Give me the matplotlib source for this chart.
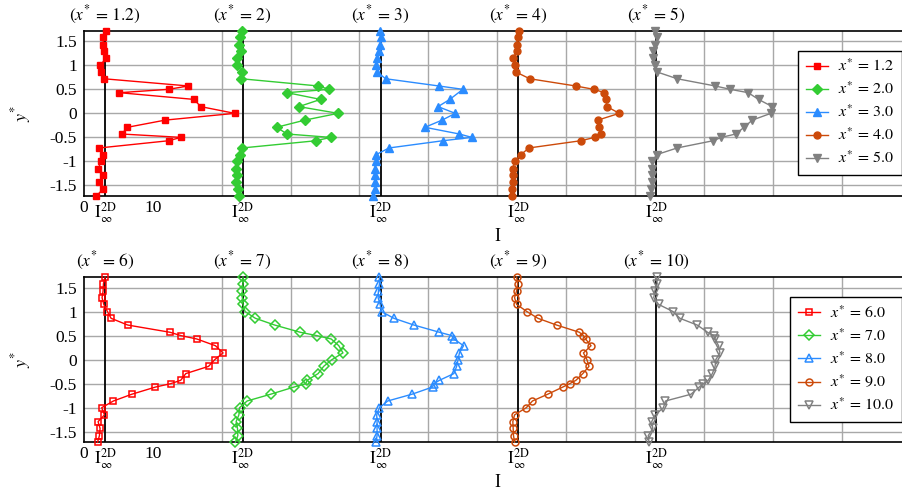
import matplotlib
matplotlib.use("Agg")
import numpy as np
import matplotlib.pyplot as plt
import matplotlib.transforms as mtransforms

plt.rcParams['font.family'] = ['Liberation Serif', 'DejaVu Serif']
plt.rcParams['mathtext.fontset'] = 'stix'
plt.rcParams['axes.unicode_minus'] = False

# reference intensity (black vertical lines) and horizontal shift between stations
I_INF = 3.05
offsets = [0, 20, 40, 60, 80]

# y* positions of the measurement points
y_prof = [1.72, 1.58, 1.43, 1.29, 1.15, 1.0, 0.86, 0.72, 0.57, 0.5, 0.43, 0.29, 0.14, 0.0,
          -0.14, -0.29, -0.43, -0.5, -0.57, -0.72, -0.86, -1.0, -1.15, -1.29, -1.43, -1.58, -1.72]
# x*=3 has one point less near y*=0.43
y_prof3 = [1.72, 1.58, 1.43, 1.29, 1.15, 1.0, 0.86, 0.72, 0.57, 0.5, 0.29, 0.14, 0.0,
           -0.14, -0.29, -0.43, -0.5, -0.57, -0.72, -0.86, -1.0, -1.15, -1.29, -1.43, -1.58, -1.72]

# top row: x* = 1.2 ... 5.0
I_12 = [3.19, 2.8, 2.85, 3.0, 3.19, 2.42, 2.56, 2.9, 15.17, 12.3, 5.17, 16.0, 16.96, 21.9,
        11.84, 6.33, 5.5, 14.1, 12.3, 2.27, 2.75, 2.46, 2.13, 2.75, 2.27, 2.75, 1.84]
I_20 = [3.0, 2.65, 2.56, 2.85, 2.3, 2.3, 3.0, 2.85, 14.0, 15.6, 9.5, 14.35, 11.2, 16.9,
        12.1, 7.97, 9.5, 15.8, 13.7, 3.0, 2.65, 2.2, 2.1, 2.3, 2.1, 2.4, 2.56]
I_30 = [2.95, 3.19, 3.0, 2.8, 2.56, 2.4, 2.56, 3.8, 11.5, 15.0, 13.1, 11.4, 13.9,
        12.0, 9.5, 14.5, 16.3, 12.1, 4.3, 2.4, 2.4, 2.2, 2.2, 2.2, 2.3, 2.0]
I_40 = [3.1, 2.93, 2.8, 2.8, 2.3, 2.55, 2.7, 4.7, 11.35, 14.0, 15.55, 15.8, 15.9, 17.7,
        14.6, 14.7, 15.0, 14.15, 12.1, 4.6, 3.4, 2.5, 2.25, 2.25, 2.25, 2.15, 2.2]
I_50 = [2.9, 3.2, 2.85, 2.6, 2.6, 2.9, 3.2, 6.1, 11.6, 13.8, 16.4, 17.9, 19.9, 19.7,
        17.0, 15.8, 14.6, 12.5, 11.3, 6.1, 3.1, 2.5, 2.5, 2.5, 2.4, 2.3, 2.2]

# bottom row: x* = 6.0 ... 10.0
I_60 = [3.09, 2.85, 2.8, 2.65, 2.9, 3.43, 3.96, 6.38, 12.5, 14.1, 16.4, 19.1, 20.2, 19.0,
        18.1, 14.8, 14.06, 12.6, 10.4, 6.96, 4.3, 2.6, 3.0, 2.07, 2.36, 2.27, 1.99]
I_70 = [3.1, 3.1, 3.0, 3.0, 3.1, 3.4, 4.9, 7.7, 11.4, 13.8, 15.9, 17.0, 17.6, 16.0,
        14.8, 14.0, 12.4, 12.2, 10.5, 7.1, 3.7, 2.6, 2.5, 2.1, 2.3, 2.35, 2.0]
I_80 = [2.9, 2.9, 2.75, 2.7, 3.0, 3.2, 5.0, 7.9, 11.6, 13.4, 13.7, 15.1, 14.5, 14.3,
        14.1, 13.7, 11.6, 10.8, 10.6, 7.6, 4.1, 2.9, 2.5, 2.55, 2.55, 2.55, 2.4]
I_90 = [2.8, 2.95, 2.8, 2.5, 2.8, 4.3, 5.9, 8.6, 11.9, 12.5, 12.8, 13.6, 12.5, 13.0,
        13.3, 12.4, 11.4, 10.5, 9.5, 7.3, 5.1, 4.2, 2.5, 2.25, 2.3, 2.35, 2.5]
I_100 = [3.1, 3.2, 2.85, 2.7, 3.4, 5.5, 6.5, 9.0, 10.5, 11.4, 11.6, 12.1, 12.3, 11.7,
         11.6, 11.2, 10.6, 9.9, 9.3, 8.1, 4.4, 4.1, 2.9, 2.4, 2.56, 1.9, 2.0]

top_titles = ['1.2', '2', '3', '4', '5']
bot_titles = ['6', '7', '8', '9', '10']
top_legend = ['1.2', '2.0', '3.0', '4.0', '5.0']
bot_legend = ['6.0', '7.0', '8.0', '9.0', '10.0']

colors = ['#ff0000', '#33cc33', '#2b8cff', '#cc4a0a', '#808080']
markers = ['s', 'D', '^', 'o', 'v']
msizes = [5, 4.6, 6, 5, 6]

top_data = [(I_12, y_prof), (I_20, y_prof), (I_30, y_prof3), (I_40, y_prof), (I_50, y_prof)]
bot_data = [(I_60, y_prof), (I_70, y_prof), (I_80, y_prof), (I_90, y_prof), (I_100, y_prof)]

W, H = 902, 491
fig = plt.figure(figsize=(W / 100, H / 100), dpi=100)

x_ticks = [0, I_INF, 10] + [o + I_INF for o in offsets[1:]]
inf_lab = r'$\mathrm{I}_{\infty}^{\mathrm{2D}}$'
x_labels = ['0', inf_lab, '10'] + [inf_lab] * 4
y_ticks = [-1.5, -1, -0.5, 0, 0.5, 1, 1.5]
y_labels = ['-1.5', '-1', '-0.5', '0', '0.5', '1', '1.5']
FS = 12.5


def panel(ax, data, titles, leg_labels, filled, leg_y):
    ax.set_xlim(0, 120)
    ax.set_ylim(-1.72, 1.72)
    ax.set_xticks(x_ticks)
    ax.set_xticklabels(x_labels, fontsize=FS)
    ax.set_xticks(np.arange(10, 120, 10), minor=True)
    ax.set_yticks(y_ticks)
    ax.set_yticklabels(y_labels, fontsize=FS)
    ax.tick_params(which='both', length=0)
    ax.tick_params(axis='x', pad=3)
    ax.tick_params(axis='y', pad=5)
    ax.grid(axis='x', which='minor', color='#a8a8a8', lw=1.0)
    ax.grid(axis='y', which='major', color='#a8a8a8', lw=1.0)
    ax.set_axisbelow(True)
    for s in ax.spines.values():
        s.set_linewidth(1.2)
    trans = mtransforms.blended_transform_factory(ax.transData, ax.transAxes)
    for i, (vals, ys) in enumerate(data):
        ax.axvline(offsets[i] + I_INF, color='black', lw=1.3, zorder=2)
        xs = np.array(vals) + offsets[i]
        kw = dict(color=colors[i], marker=markers[i], ms=msizes[i], lw=1.0,
                  label=r'$x^{*}\,=\,%s$' % leg_labels[i], zorder=3, clip_on=False)
        if filled:
            kw.update(mfc=colors[i], mec=colors[i])
        else:
            kw.update(mfc='none', mec=colors[i], mew=1.1)
        ax.plot(xs, ys, **kw)
        ax.text(offsets[i] + I_INF, 1.095, r'$(x^{*}\,=\,%s)$' % titles[i],
                transform=trans, ha='center', va='center', fontsize=FS)
    ax.set_xlabel('I', fontsize=13, labelpad=2)
    ax.set_ylabel(r'$y^{*}$', fontsize=13, labelpad=12)
    leg = ax.legend(loc='center right', bbox_to_anchor=(0.9995, leg_y),
                    bbox_transform=fig.transFigure, fontsize=11.5, fancybox=False,
                    framealpha=1, edgecolor='black', borderpad=0.5,
                    labelspacing=0.4, handlelength=1.4, handletextpad=0.6,
                    borderaxespad=0)
    leg.get_frame().set_linewidth(1.0)


ax_w = 120 * 6.892 / W
ax_h = (196 - 30.7) / H
ax1 = fig.add_axes([83.8 / W, 1 - 196 / H, ax_w, ax_h])
ax2 = fig.add_axes([83.8 / W, 1 - 442.3 / H, ax_w, ax_h])

panel(ax1, top_data, top_titles, top_legend, True, 1 - 113 / H)
panel(ax2, bot_data, bot_titles, bot_legend, False, 1 - 359.7 / H)

fig.savefig('out.png', dpi=100)
